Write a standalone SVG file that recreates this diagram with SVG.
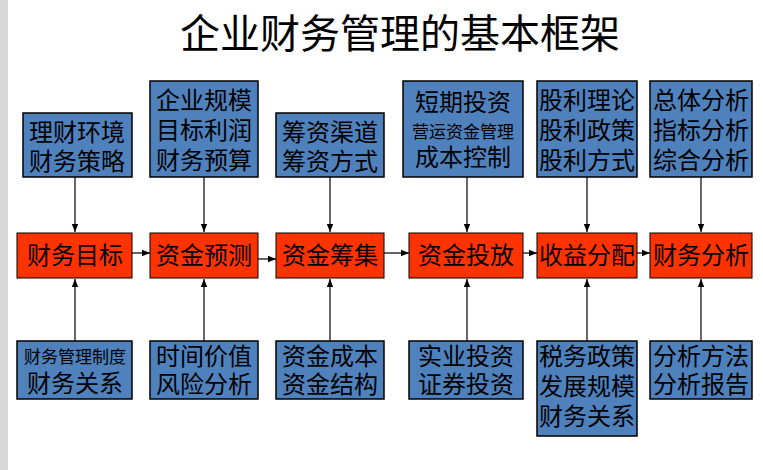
<svg xmlns="http://www.w3.org/2000/svg" width="763" height="470" viewBox="0 0 763 470">
<defs>
<style>
.b{fill:#4f81bd;stroke:#000;stroke-width:1.5}
.r{fill:#ff3300;stroke:#000;stroke-width:1}
text{font-family:"Noto Sans CJK SC",sans-serif;fill:#000;text-anchor:middle}
.t{font-size:24px}
.s{font-size:17px}
.c line{stroke:#000;stroke-width:1.2;marker-end:url(#a)}
</style>
<marker id="a" viewBox="0 0 10 10" refX="10" refY="5" markerWidth="7" markerHeight="7" orient="auto"><path d="M0,1L10,5L0,9z" fill="#000"/></marker>
</defs>
<rect width="763" height="470" fill="#fff"/>
<rect x="0" y="0" width="8" height="470" fill="#d8d8d8"/>
<text x="400" y="48" style="font-size:40px">企业财务管理的基本框架</text>
<g class="c">
<line x1="75" y1="177" x2="75" y2="232"/><line x1="204" y1="177" x2="204" y2="232"/><line x1="330" y1="177" x2="330" y2="232"/><line x1="467" y1="177" x2="467" y2="232"/><line x1="587" y1="177" x2="587" y2="232"/><line x1="701" y1="177" x2="701" y2="232"/>
<line x1="75" y1="341" x2="75" y2="279"/><line x1="204" y1="341" x2="204" y2="279"/><line x1="330" y1="341" x2="330" y2="279"/><line x1="467" y1="341" x2="467" y2="279"/><line x1="587" y1="341" x2="587" y2="279"/><line x1="701" y1="341" x2="701" y2="279"/>
<line x1="132" y1="253" x2="150" y2="253"/><line x1="258" y1="259" x2="276" y2="259"/><line x1="384" y1="253" x2="409" y2="253"/><line x1="523" y1="253" x2="537" y2="253"/><line x1="637" y1="253" x2="650" y2="253"/>
</g>
<g id="t1"><rect class="b" x="23" y="113" width="109" height="64"/><text class="t" x="77" y="141">理财环境</text><text class="t" x="77" y="170">财务策略</text></g>
<g id="t2"><rect class="b" x="150" y="81" width="108" height="96"/><text class="t" x="204" y="109">企业规模</text><text class="t" x="204" y="139">目标利润</text><text class="t" x="204" y="169">财务预算</text></g>
<g id="t3"><rect class="b" x="276" y="113" width="108" height="64"/><text class="t" x="330" y="141">筹资渠道</text><text class="t" x="330" y="170">筹资方式</text></g>
<g id="t4"><rect class="b" x="403" y="81" width="120" height="96"/><text class="t" x="463" y="111">短期投资</text><text class="s" x="463" y="138">营运资金管理</text><text class="t" x="463" y="166">成本控制</text></g>
<g id="t5"><rect class="b" x="537" y="81" width="100" height="96"/><text class="t" x="587" y="109">股利理论</text><text class="t" x="587" y="139">股利政策</text><text class="t" x="587" y="169">股利方式</text></g>
<g id="t6"><rect class="b" x="650" y="81" width="102" height="96"/><text class="t" x="701" y="109">总体分析</text><text class="t" x="701" y="139">指标分析</text><text class="t" x="701" y="169">综合分析</text></g>
<g id="r1"><rect class="r" x="17" y="233" width="115" height="45"/><text class="t" x="75" y="264">财务目标</text></g>
<g id="r2"><rect class="r" x="150" y="233" width="108" height="45"/><text class="t" x="204" y="264">资金预测</text></g>
<g id="r3"><rect class="r" x="276" y="233" width="108" height="45"/><text class="t" x="330" y="264">资金筹集</text></g>
<g id="r4"><rect class="r" x="409" y="233" width="114" height="45"/><text class="t" x="466" y="264">资金投放</text></g>
<g id="r5"><rect class="r" x="537" y="233" width="100" height="45"/><text class="t" x="587" y="264">收益分配</text></g>
<g id="r6"><rect class="r" x="650" y="233" width="102" height="45"/><text class="t" x="701" y="264">财务分析</text></g>
<g id="b1"><rect class="b" x="17" y="341" width="115" height="58"/><text class="s" x="75" y="363">财务管理制度</text><text class="t" x="75" y="392">财务关系</text></g>
<g id="b2"><rect class="b" x="150" y="341" width="108" height="58"/><text class="t" x="204" y="365">时间价值</text><text class="t" x="204" y="393">风险分析</text></g>
<g id="b3"><rect class="b" x="276" y="341" width="108" height="58"/><text class="t" x="330" y="365">资金成本</text><text class="t" x="330" y="393">资金结构</text></g>
<g id="b4"><rect class="b" x="409" y="341" width="114" height="58"/><text class="t" x="466" y="365">实业投资</text><text class="t" x="466" y="393">证券投资</text></g>
<g id="b5"><rect class="b" x="537" y="341" width="100" height="95"/><text class="t" x="587" y="365">税务政策</text><text class="t" x="587" y="395">发展规模</text><text class="t" x="587" y="425">财务关系</text></g>
<g id="b6"><rect class="b" x="650" y="341" width="102" height="58"/><text class="t" x="701" y="365">分析方法</text><text class="t" x="701" y="393">分析报告</text></g>
</svg>
